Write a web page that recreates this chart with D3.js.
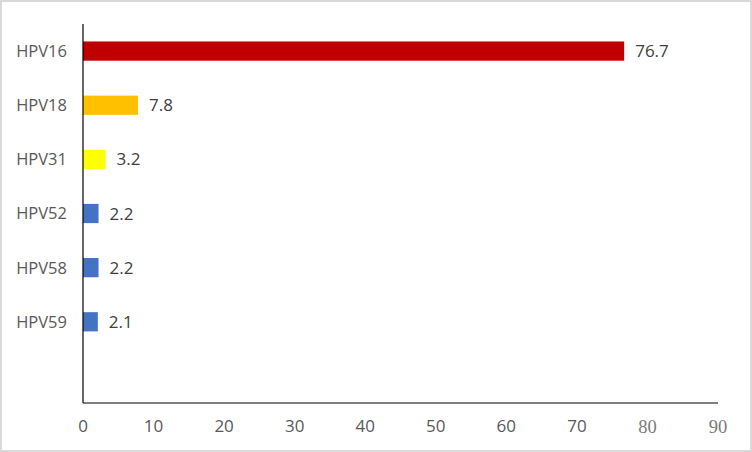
<!DOCTYPE html>
<html><head><meta charset="utf-8">
<script src="https://cdn.jsdelivr.net/npm/d3@7"></script>
<style>body{margin:0;background:#fff}svg{display:block}</style>
</head><body>
<script>
const categories = ["HPV16","HPV18","HPV31","HPV52","HPV58","HPV59",""];
const values = [76.7, 7.8, 3.2, 2.2, 2.2, 2.1, null];
const colors = ["#C00000","#FFC000","#FFFF00","#4472C4","#4472C4","#4472C4","#4472C4"];
const xTicks = [0,10,20,30,40,50,60,70,80,90];

(function(){
const W = 752, H = 452;
const FONT = "Open Sans, Calibri, sans-serif";
const svg = d3.select("body").append("svg").attr("width", W).attr("height", H);
svg.append("rect").attr("x",1).attr("y",1).attr("width",W-2).attr("height",H-2)
  .attr("fill","#fff").attr("stroke","#d9d9d9").attr("stroke-width",2);

const mLeft = 83, mRight = 718, mTop = 24, mBottom = 403;
const x = d3.scaleLinear().domain([0,90]).range([mLeft,mRight]);
const y = d3.scaleBand().domain(categories).range([mTop,mBottom]).paddingInner(0.645).paddingOuter(0.3225);

const data = categories.map((c,i)=>({c, v: values[i], col: colors[i]})).filter(d=>d.v!=null);

svg.selectAll("rect.bar").data(data).enter().append("rect")
  .attr("class","bar")
  .attr("x", x(0)).attr("y", d=>y(d.c))
  .attr("width", d=>x(d.v)-x(0)).attr("height", y.bandwidth())
  .attr("fill", d=>d.col);

svg.selectAll("text.val").data(data).enter().append("text")
  .attr("x", d=>x(d.v)+11).attr("y", d=>y(d.c)+y.bandwidth()/2)
  .attr("dy","0.36em")
  .attr("font-family",FONT).attr("font-size",17)
  .attr("fill","#404040").text(d=>d.v.toFixed(1));

svg.append("line").attr("x1",mLeft).attr("x2",mLeft).attr("y1",mTop).attr("y2",mBottom)
  .attr("stroke","#000").attr("stroke-width",1.2);
svg.append("line").attr("x1",mLeft).attr("x2",mRight).attr("y1",mBottom).attr("y2",mBottom)
  .attr("stroke","#000").attr("stroke-width",1.2);

svg.selectAll("text.cat").data(categories.filter(c=>c)).enter().append("text")
  .attr("x", mLeft-16).attr("y", d=>y(d)+y.bandwidth()/2).attr("dy","0.36em")
  .attr("text-anchor","end")
  .attr("font-family",FONT).attr("font-size",16.5)
  .attr("fill","#595959").text(d=>d);

svg.selectAll("text.tick").data(xTicks).enter().append("text")
  .attr("x", d=>x(d)).attr("y", 426).attr("dy","0.36em")
  .attr("text-anchor","middle")
  .attr("font-family", d=> d>=80 ? "Liberation Serif, serif" : FONT)
  .attr("font-size", d=> d>=80 ? 18.5 : 17)
  .attr("fill", d=> d>=80 ? "#7a7a7a" : "#595959").text(d=>d);
})();
</script>
</body></html>
